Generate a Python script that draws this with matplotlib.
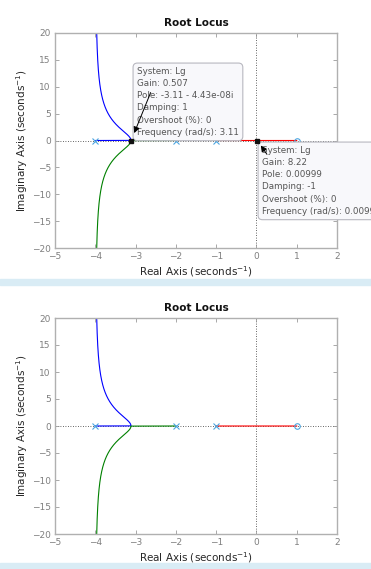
import numpy as np
import matplotlib.pyplot as plt

# Lg(s) = (s - 1) / ((s + 1)(s + 2)(s + 4))
poles = [-4, -2, -1]
zeros = [1]
x_ticks = [-5, -4, -3, -2, -1, 0, 1, 2]
y_ticks = [-20, -15, -10, -5, 0, 5, 10, 15, 20]

tip1_point = (-3.11, 0.0)
tip1_text = ["System: Lg", "Gain: 0.507", "Pole: -3.11 - 4.43e-08i",
             "Damping: 1", "Overshoot (%): 0", "Frequency (rad/s): 3.11"]
tip2_point = (0.00999, 0.0)
tip2_text = ["System: Lg", "Gain: 8.22", "Pole: 0.00999",
             "Damping: -1", "Overshoot (%): 0", "Frequency (rad/s): 0.00999"]

num = np.poly(zeros)
den = np.poly(poles)
gains = np.concatenate([np.linspace(0, 2, 6000), np.geomspace(2, 1e5, 3000)])

blue, green, red = [], [], []
for k in gains:
    p = np.polyadd(den, k * np.pad(num, (len(den) - len(num), 0)))
    r = np.roots(p)
    # red branch: the real root between -1 and 1
    idx = np.argmax(r.real)
    red.append(r[idx])
    rest = np.delete(r, idx)
    if abs(rest[0].imag) < 1e-9 and abs(rest[1].imag) < 1e-9:
        rest = sorted(rest, key=lambda z: z.real)
        blue.append(rest[0])
        green.append(rest[1])
    else:
        rest = sorted(rest, key=lambda z: -z.imag)
        blue.append(rest[0])
        green.append(rest[1])
blue, green, red = np.array(blue), np.array(green), np.array(red)

W, H = 371, 569
fig = plt.figure(figsize=(W / 100, H / 100), dpi=100)
fig.patch.set_facecolor('white')

gray = '#9a9a9a'
tick_gray = '#7f7f7f'
mark_col = '#4da6e0'


def root_locus(ax):
    ax.axhline(0, color='#333333', ls=(0, (1, 2)), lw=0.6, zorder=1)
    ax.axvline(0, color='#333333', ls=(0, (1, 2)), lw=0.6, zorder=1)
    ax.plot(blue.real, blue.imag, color='#0000ff', lw=0.8, zorder=2)
    ax.plot(green.real, green.imag, color='#008000', lw=0.8, zorder=2)
    ax.plot(red.real, red.imag, color='#ff0000', lw=0.8, zorder=2)
    ax.plot(poles, np.zeros(len(poles)), 'x', color=mark_col, ms=4, mew=0.8, zorder=3)
    ax.plot(zeros, np.zeros(len(zeros)), 'o', color=mark_col, ms=4, mew=0.8,
            mfc='none', zorder=3)
    ax.set_xlim(-5, 2)
    ax.set_ylim(-20, 20)
    ax.set_xticks(x_ticks)
    ax.set_yticks(y_ticks)
    ax.tick_params(direction='in', length=3, width=0.6, colors=gray,
                   labelcolor=tick_gray, labelsize=6.5, top=True, right=True, pad=3)
    for s in ax.spines.values():
        s.set_color('#b0b0b0')
        s.set_linewidth(1.0)
    ax.set_title('Root Locus', fontsize=7.5, fontweight='bold', color='#111111', pad=5)
    ax.set_xlabel('Real Axis (seconds$^{-1}$)', fontsize=7.5, color='#262626', labelpad=2)
    ax.set_ylabel('Imaginary Axis (seconds$^{-1}$)', fontsize=7.5, color='#262626', labelpad=1)


ax1 = fig.add_axes([55 / W, 1 - 248 / H, 282 / W, 215 / H])
ax2 = fig.add_axes([55 / W, 1 - 534 / H, 282 / W, 216 / H])
root_locus(ax1)
root_locus(ax2)

# light blue separator bands
for y0, y1 in [(279, 285), (563, 569)]:
    fig.patches.append(plt.Rectangle((0, 1 - y1 / H), 1, (y1 - y0) / H,
                                     transform=fig.transFigure, color='#d9ecf5',
                                     zorder=0))

# data tips on the first plot
box = dict(boxstyle='round,pad=0.45,rounding_size=0.5', fc='#f8f8fb', ec='#b8b8c0', lw=0.8)
ax1.text(137 / W, 1 - 67 / H, '\n'.join(tip1_text), transform=fig.transFigure,
         ha='left', va='top', fontsize=6.3, color='#555555', linespacing=1.45,
         bbox=box, zorder=5, clip_on=False)
ax1.text(262 / W, 1 - 146 / H, '\n'.join(tip2_text), transform=fig.transFigure,
         ha='left', va='top', fontsize=6.3, color='#555555', linespacing=1.45,
         bbox=box, zorder=5, clip_on=False)

for pt in [tip1_point, tip2_point]:
    ax1.plot(pt[0], pt[1], 's', color='#111111', ms=2.5, zorder=6)

ax1.annotate('', xy=(-3.06, 0.9), xytext=(-2.6, 9.4),
             arrowprops=dict(arrowstyle='-|>', color='black', lw=0.7,
                             mutation_scale=9), zorder=7, annotation_clip=False)
ax1.annotate('', xy=(0.07, -0.5), xytext=(0.3, -3.0),
             arrowprops=dict(arrowstyle='-|>', color='black', lw=0.7,
                             mutation_scale=9), zorder=7, annotation_clip=False)

fig.savefig('out.png', dpi=100)
